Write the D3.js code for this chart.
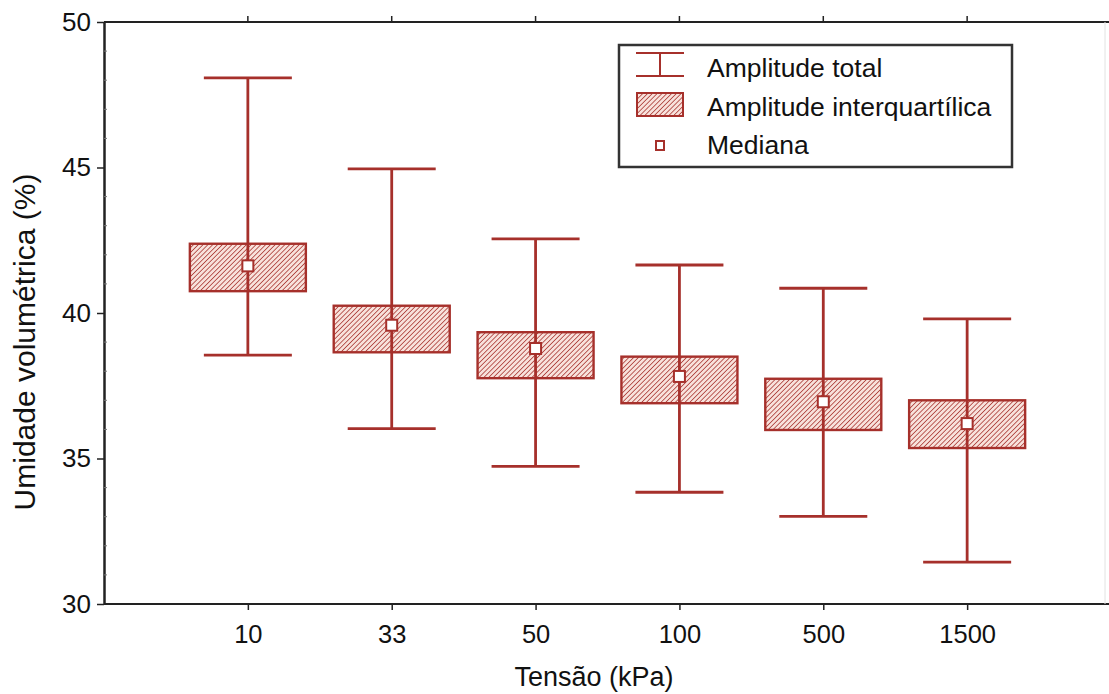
<!DOCTYPE html>
<html>
<head>
<meta charset="utf-8">
<script src="https://cdn.jsdelivr.net/npm/d3@7"></script>
<style>
  body { margin: 0; background: #fff; }
  svg { font-family: "Liberation Sans", Arial, sans-serif; }
</style>
</head>
<body>
<svg id="chart" width="1109" height="694"></svg>
<script>
// data
const tensoes = ['10', '33', '50', '100', '500', '1500'];
const minimos = [38.55, 36.03, 34.73, 33.84, 33.01, 31.44];
const maximos = [48.08, 44.95, 42.55, 41.65, 40.85, 39.8];
const quartil1 = [40.75, 38.65, 37.76, 36.9, 35.98, 35.36];
const quartil3 = [42.38, 40.25, 39.34, 38.5, 37.74, 37.0];
const medianas = [41.62, 39.58, 38.78, 37.82, 36.95, 36.2];
const yTicks = [30, 35, 40, 45, 50];

const red = '#a6302b';
const width = 1109, height = 694;
const margin = { top: 22, right: -2, bottom: 90, left: 104 };
const fontFam = '"Liberation Sans", Arial, sans-serif';

const svg = d3.select('#chart');

// hatch pattern for the boxes
const defs = svg.append('defs');
const pat = defs.append('pattern')
    .attr('id', 'hatch')
    .attr('patternUnits', 'userSpaceOnUse')
    .attr('width', 3.4)
    .attr('height', 3.4)
    .attr('patternTransform', 'rotate(45)');
pat.append('rect').attr('width', 3.4).attr('height', 3.4).attr('fill', '#f8e2dc');
pat.append('line')
    .attr('x1', 0).attr('y1', 0).attr('x2', 0).attr('y2', 3.4)
    .attr('stroke', red).attr('stroke-width', 1.5);

const x = d3.scalePoint()
    .domain(tensoes)
    .range([margin.left, width - margin.right])
    .padding(1);

const y = d3.scaleLinear()
    .domain([30, 50])
    .range([height - margin.bottom, margin.top]);

const rows = tensoes.map((t, i) => ({
  t, min: minimos[i], max: maximos[i], q1: quartil1[i], q3: quartil3[i], med: medianas[i]
}));

// frame: bottom + top lines, faint right edge
svg.append('line')
    .attr('x1', margin.left).attr('x2', width)
    .attr('y1', y(30)).attr('y2', y(30))
    .attr('stroke', '#222').attr('stroke-width', 2);
svg.append('line')
    .attr('x1', margin.left).attr('x2', width)
    .attr('y1', y(50)).attr('y2', y(50))
    .attr('stroke', '#222').attr('stroke-width', 2);
svg.append('line')
    .attr('x1', 1105).attr('x2', 1105)
    .attr('y1', y(50)).attr('y2', y(30))
    .attr('stroke', '#e2e2e2').attr('stroke-width', 1);

const yAxis = svg.append('g')
    .attr('transform', `translate(${margin.left},0)`)
    .call(d3.axisLeft(y).tickValues(yTicks).tickSize(7).tickSizeOuter(0).tickPadding(6));
yAxis.select('.domain').attr('stroke', '#222').attr('stroke-width', 2.5);
yAxis.selectAll('.tick line').attr('stroke', '#222').attr('stroke-width', 1.5);
yAxis.selectAll('.tick text')
    .attr('font-size', 26).attr('fill', '#111')
    .attr('font-family', fontFam);

// minor ticks on left axis
svg.append('g')
    .selectAll('line')
    .data(d3.range(31, 50).filter(v => v % 5 !== 0))
    .join('line')
    .attr('x1', margin.left).attr('x2', margin.left + 3)
    .attr('y1', d => y(d)).attr('y2', d => y(d))
    .attr('stroke', '#777').attr('stroke-width', 1);

const xAxis = svg.append('g')
    .attr('transform', `translate(0,${y(30)})`)
    .call(d3.axisBottom(x).tickSize(6).tickSizeOuter(0).tickPadding(15));
xAxis.select('.domain').remove();
xAxis.selectAll('.tick line').attr('stroke', '#222').attr('stroke-width', 1.5);
xAxis.selectAll('.tick text')
    .attr('font-size', 25.5).attr('fill', '#111')
    .attr('font-family', fontFam);

// small ticks up on top line
svg.append('g')
    .selectAll('line')
    .data(tensoes)
    .join('line')
    .attr('x1', d => x(d)).attr('x2', d => x(d))
    .attr('y1', y(50)).attr('y2', y(50) - 6)
    .attr('stroke', '#222').attr('stroke-width', 1.5);

// axis titles
svg.append('text')
    .attr('x', 594).attr('y', 686)
    .attr('text-anchor', 'middle')
    .attr('font-size', 27).attr('fill', '#111')
    .text('Tensão (kPa)');
svg.append('text')
    .attr('transform', 'translate(35,342) rotate(-90)')
    .attr('text-anchor', 'middle')
    .attr('font-size', 30).attr('fill', '#111')
    .text('Umidade volumétrica (%)');

const boxHalf = 58, capHalf = 44;
const g = svg.append('g');

// whiskers
g.selectAll('.whisker')
    .data(rows)
    .join('line')
    .attr('x1', d => x(d.t)).attr('x2', d => x(d.t))
    .attr('y1', d => y(d.max)).attr('y2', d => y(d.min))
    .attr('stroke', red).attr('stroke-width', 2.8);
g.selectAll('.capTop')
    .data(rows)
    .join('line')
    .attr('x1', d => x(d.t) - capHalf).attr('x2', d => x(d.t) + capHalf)
    .attr('y1', d => y(d.max)).attr('y2', d => y(d.max))
    .attr('stroke', red).attr('stroke-width', 2.8);
g.selectAll('.capBot')
    .data(rows)
    .join('line')
    .attr('x1', d => x(d.t) - capHalf).attr('x2', d => x(d.t) + capHalf)
    .attr('y1', d => y(d.min)).attr('y2', d => y(d.min))
    .attr('stroke', red).attr('stroke-width', 2.8);

// boxes
g.selectAll('.box')
    .data(rows)
    .join('rect')
    .attr('x', d => x(d.t) - boxHalf)
    .attr('width', boxHalf * 2)
    .attr('y', d => y(d.q3))
    .attr('height', d => y(d.q1) - y(d.q3))
    .attr('fill', 'url(#hatch)')
    .attr('stroke', red).attr('stroke-width', 2.4);

// whisker line across the box
g.selectAll('.inner')
    .data(rows)
    .join('line')
    .attr('x1', d => x(d.t)).attr('x2', d => x(d.t))
    .attr('y1', d => y(d.q3)).attr('y2', d => y(d.q1))
    .attr('stroke', red).attr('stroke-width', 2.8);

// medians
g.selectAll('.med')
    .data(rows)
    .join('rect')
    .attr('x', d => x(d.t) - 5.5).attr('y', d => y(d.med) - 5.5)
    .attr('width', 11).attr('height', 11)
    .attr('fill', '#fff').attr('stroke', red).attr('stroke-width', 2);

// legend
const lg = svg.append('g');
lg.append('rect')
    .attr('x', 619).attr('y', 45)
    .attr('width', 393).attr('height', 122)
    .attr('fill', '#fff').attr('stroke', '#333').attr('stroke-width', 2.5);

const lx = 660;
lg.append('line').attr('x1', lx - 24).attr('x2', lx + 24).attr('y1', 53).attr('y2', 53)
    .attr('stroke', red).attr('stroke-width', 2);
lg.append('line').attr('x1', lx - 24).attr('x2', lx + 24).attr('y1', 76).attr('y2', 76)
    .attr('stroke', red).attr('stroke-width', 2);
lg.append('line').attr('x1', lx).attr('x2', lx).attr('y1', 53).attr('y2', 76)
    .attr('stroke', red).attr('stroke-width', 2);
lg.append('rect').attr('x', lx - 23).attr('y', 93).attr('width', 46).attr('height', 23)
    .attr('fill', 'url(#hatch)').attr('stroke', red).attr('stroke-width', 2);
lg.append('rect').attr('x', lx - 4).attr('y', 141).attr('width', 8).attr('height', 9)
    .attr('fill', '#fff').attr('stroke', red).attr('stroke-width', 2);

const labels = ['Amplitude total', 'Amplitude interquartílica', 'Mediana'];
lg.selectAll('.lt')
    .data(labels)
    .join('text')
    .attr('x', 707)
    .attr('y', (d, i) => 77 + i * 38.5)
    .attr('font-size', 26.5).attr('fill', '#111')
    .text(d => d);
</script>
</body>
</html>
